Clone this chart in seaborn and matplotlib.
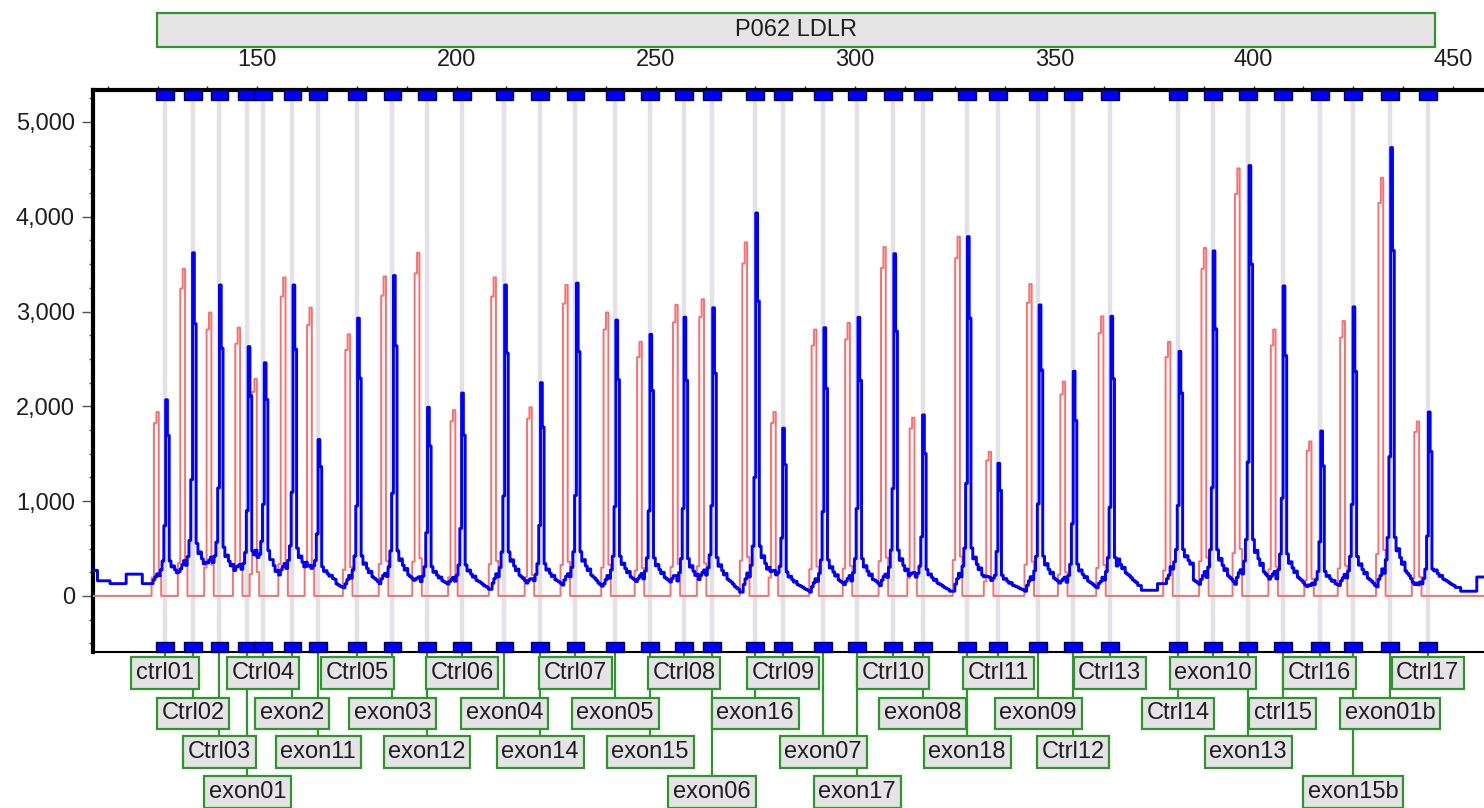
import numpy as np
import matplotlib
matplotlib.use("Agg")
import matplotlib.pyplot as plt
import matplotlib.ticker as mticker
from matplotlib.patches import Rectangle
import seaborn as sns

# ---- probe table -------------------------------------------------------
probe_names = ["ctrl01", "Ctrl02", "Ctrl03", "exon01", "Ctrl04", "exon2", "exon11",
               "Ctrl05", "exon03", "exon12", "Ctrl06", "exon04", "exon14", "Ctrl07",
               "exon05", "exon15", "Ctrl08", "exon06", "exon16", "Ctrl09", "exon07",
               "exon17", "Ctrl10", "exon08", "exon18", "Ctrl11", "exon09", "Ctrl12",
               "Ctrl13", "Ctrl14", "exon10", "exon13", "ctrl15", "Ctrl16", "exon15b",
               "exon01b", "Ctrl17"]
probe_sizes = [126.9, 133.9, 140.5, 147.5, 151.5, 158.8, 165.3, 175.1, 183.9, 192.6,
               201.4, 212.0, 221.0, 229.8, 239.8, 248.6, 257.1, 264.1, 274.9, 281.9,
               292.0, 300.5, 309.5, 317.0, 328.1, 335.9, 345.9, 354.7, 363.9, 381.0,
               389.8, 398.6, 407.3, 416.6, 424.9, 434.2, 443.7]
label_rows = [0, 1, 2, 3, 0, 1, 2, 0, 1, 2, 0, 1, 2, 0, 1, 2, 0, 3, 1, 0, 2, 3, 0,
              1, 2, 0, 1, 2, 0, 1, 0, 2, 1, 0, 3, 1, 0]

# peak heights (RFU): sample run and reference run
sample_heights = [2070, 3620, 3280, 2630, 2460, 3280, 1650, 2930, 3380, 1990, 2140,
                  3280, 2250, 3300, 2910, 2760, 2940, 3040, 4040, 1770, 2830, 2940,
                  3610, 1910, 3790, 1400, 3070, 2370, 2950, 2580, 3640, 4540, 3270,
                  1740, 3050, 4730, 1940]
reference_heights = [1940, 3450, 2990, 2830, 2290, 3360, 3040, 2760, 3370, 3620, 1960,
                     3360, 1990, 3280, 2990, 2680, 3070, 3130, 3730, 1940, 2810, 2880,
                     3680, 1880, 3790, 1520, 3290, 2260, 2950, 2680, 3670, 4510, 2810,
                     1630, 2900, 4410, 1840]

# sample baseline (RFU), held from each start size to the next
baseline_start = [108, 110, 113, 117, 121, 126, 145, 170, 205, 255, 305, 366, 372,
                  376, 379, 385, 445, 452, 456]
baseline_level = [270, 160, 130, 230, 130, 120, 110, 70, 70, 40, 50, 110, 60, 130,
                  180, 50, 90, 50, 200]

# peak profiles, relative to peak height
sample_rise = [0.02, 0.035, 0.05, 0.04, 0.07, 0.12, 0.3]
sample_fall = [1.0, 0.76, 0.12, 0.09, 0.095, 0.075, 0.06, 0.065, 0.045, 0.04,
               0.035, 0.028, 0.02, 0.015, 0.01]
reference_profile = [0.1, 0.94, 1.0, 0.11]

panel_title = "P062 LDLR"
panel_span = [124.9, 445.5]
x_ticks = [150, 200, 250, 300, 350, 400, 450]
y_ticks = [0, 1000, 2000, 3000, 4000, 5000]

# ---- styling -----------------------------------------------------------
sns.set_style("white")
plt.rcParams["font.family"] = ["Liberation Sans", "DejaVu Sans"]

GREEN = "#2f962f"
BOXFILL = "#e6e3e6"
TEXT = "#1e1e1e"
FS = 17

XMIN, XMAX = 108.8, 461.8
YMIN, YMAX = -591, 5337

fig = plt.figure(figsize=(14.84, 8.08), dpi=100)
W, H = 1484, 808
ax = fig.add_axes([93 / W, (H - 652) / H, (1500 - 93) / W, 562 / H])
ax.set_xlim(XMIN, XMAX)
ax.set_ylim(YMIN, YMAX)
xt = ax.get_xaxis_transform()

# ---- traces ------------------------------------------------------------
dx_s = 0.45
xs = np.arange(XMIN, XMAX, dx_s)
idx = np.searchsorted(baseline_start, xs, side="right") - 1
ys = np.array(baseline_level, dtype=float)[idx]
peak_idx = []
for pos, h in zip(probe_sizes, sample_heights):
    i0 = int(round((pos + 0.3 - XMIN) / dx_s))
    peak_idx.append(i0)
    n = len(sample_rise)
    for k, f in enumerate(sample_rise):
        ys[i0 - n + k] += f * h
    for k, f in enumerate(sample_fall):
        if i0 + k < len(ys):
            ys[i0 + k] += f * h
for i0, h in zip(peak_idx, sample_heights):
    ys[i0] = h

dx_r = 0.6
xr = np.arange(XMIN, XMAX, dx_r)
yr = np.zeros_like(xr)
for pos, h in zip(probe_sizes, reference_heights):
    i0 = int(round((pos - 2.2 - XMIN) / dx_r))
    for k, f in enumerate(reference_profile):
        yr[i0 - 2 + k] = max(yr[i0 - 2 + k], f * h)

# probe guide lines
ax.vlines(probe_sizes, 0.018, 0.982, transform=xt, colors="#e4e1e6", lw=3.2, zorder=1)

sns.lineplot(x=xr, y=yr, ax=ax, color="#ff6e6e", lw=1.4, drawstyle="steps-mid",
             estimator=None, sort=False, legend=False, zorder=3)
sns.lineplot(x=xs, y=ys, ax=ax, color="#0000ff", lw=2.1, drawstyle="steps-mid",
             estimator=None, sort=False, legend=False, zorder=4)

# probe markers on top and bottom edges
for p in probe_sizes:
    for y0 in (0.982, 0.0):
        ax.add_patch(Rectangle((p - 2.2, y0), 4.4, 0.018, transform=xt,
                               facecolor="#0000ff", edgecolor="#000033", lw=1.0,
                               zorder=6, clip_on=False))

# probe labels
row_centers = [-0.037, -0.109, -0.178, -0.249]
for name, p, r in zip(probe_names, probe_sizes, label_rows):
    yc = row_centers[r]
    ax.plot([p, p], [0, yc], transform=xt, color=GREEN, lw=1.6, zorder=1,
            clip_on=False)
for name, p, r in zip(probe_names, probe_sizes, label_rows):
    ax.text(p, row_centers[r], name, transform=xt, ha="center", va="center",
            fontsize=FS, color=TEXT, zorder=7, clip_on=False,
            bbox=dict(boxstyle="square,pad=0.2", fc=BOXFILL, ec=GREEN, lw=1.6))

# panel title bar
ty0, ty1 = (652 - 47) / 562, (652 - 13) / 562
ax.add_patch(Rectangle((panel_span[0], ty0), panel_span[1] - panel_span[0], ty1 - ty0,
                       transform=xt, facecolor=BOXFILL, edgecolor=GREEN, lw=1.6,
                       clip_on=False, zorder=7))
ax.text(sum(panel_span) / 2, (ty0 + ty1) / 2, panel_title, transform=xt,
        ha="center", va="center", fontsize=FS, color=TEXT, zorder=8, clip_on=False)

# ---- axes --------------------------------------------------------------
ax.xaxis.tick_top()
ax.set_xticks(x_ticks)
ax.xaxis.set_minor_locator(mticker.MultipleLocator(12.5))
ax.tick_params(axis="x", which="both", top=True, bottom=False, direction="out",
               length=3, width=1, pad=11, labelsize=FS, labelcolor=TEXT)
ax.set_yticks(y_ticks)
ax.yaxis.set_minor_locator(mticker.MultipleLocator(250))
ax.yaxis.set_major_formatter(mticker.FuncFormatter(lambda v, _: f"{int(v):,}"))
ax.tick_params(axis="y", which="major", left=True, direction="out", length=8,
               width=1, pad=5, labelsize=FS, labelcolor=TEXT, color="#555555")
ax.tick_params(axis="y", which="minor", left=True, direction="out", length=3,
               width=1, color="#555555")
for s, w in (("left", 3), ("top", 3), ("bottom", 1.5)):
    ax.spines[s].set_linewidth(w)
    ax.spines[s].set_color("black")
ax.spines["right"].set_visible(False)
ax.set_xlabel("")
ax.set_ylabel("")

fig.savefig("out.png", dpi=100, facecolor="white")
